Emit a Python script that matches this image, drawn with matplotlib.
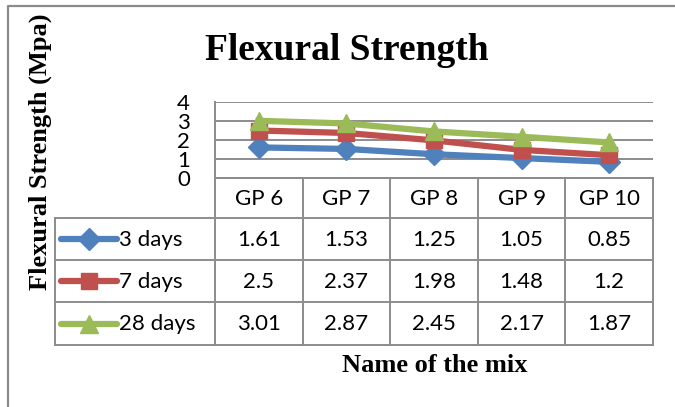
import matplotlib
matplotlib.use('Agg')
import matplotlib.pyplot as plt
import numpy as np

# Data
mixes = ['GP 6', 'GP 7', 'GP 8', 'GP 9', 'GP 10']
days3 = [1.61, 1.53, 1.25, 1.05, 0.85]
days7 = [2.5, 2.37, 1.98, 1.48, 1.2]
days28 = [3.01, 2.87, 2.45, 2.17, 1.87]
series_names = ['3 days', '7 days', '28 days']
y_ticks = [0, 1, 2, 3, 4]

W, H = 675, 407
colors = ['#4F81BD', '#C0504D', '#9BBB59']
markers = ['D', 's', '^']
msizes = [11, 12, 13]
grid_col = '#8C8C8C'

fig = plt.figure(figsize=(W / 100, H / 100), dpi=100)

# background axes in pixel coordinates for frame, table and labels
bg = fig.add_axes([0, 0, 1, 1])
bg.set_xlim(0, W)
bg.set_ylim(H, 0)
bg.axis('off')

# outer chart frame
bg.plot([8, 8, W + 5], [H + 5, 6, 6], color='#8A8A8A', lw=1.6)

# plot area geometry (pixels)
px0, px1 = 215, 653
py0, py1 = 178, 102
leg_x0 = 55
row_y = [178, 218, 260, 302, 345]

ax = fig.add_axes([px0 / W, (H - py0) / H, (px1 - px0) / W, (py0 - py1) / H])
ax.set_xlim(-0.5, len(mixes) - 0.5)
ax.set_ylim(0, 4)
ax.set_yticks(y_ticks)
ax.set_xticks([])
ax.tick_params(axis='y', length=0, pad=18, labelsize=16)
for lab in ax.get_yticklabels():
    lab.set_fontfamily('Lato')
ax.yaxis.grid(True, color=grid_col, lw=1.4)
ax.set_axisbelow(True)
for s in ['top', 'right']:
    ax.spines[s].set_visible(False)
ax.spines['left'].set_color(grid_col)
ax.spines['left'].set_linewidth(1.4)
ax.spines['bottom'].set_color(grid_col)
ax.spines['bottom'].set_linewidth(1.4)
ax.patch.set_alpha(0)

x = np.arange(len(mixes))
for vals, c, m, ms in zip([days3, days7, days28], colors, markers, msizes):
    ax.plot(x, vals, color=c, lw=4.5, marker=m, ms=ms, zorder=3, clip_on=False)

# data table
col_edges = np.linspace(px0, px1, len(mixes) + 1)
lc = grid_col
bg.plot([px0, px1], [row_y[0], row_y[0]], color=lc, lw=1.4)
for xe in col_edges:
    bg.plot([xe, xe], [row_y[0], row_y[-1]], color=lc, lw=1.4)
for yy in row_y[1:]:
    bg.plot([leg_x0, px1], [yy, yy], color=lc, lw=1.4)
bg.plot([leg_x0, leg_x0], [row_y[1], row_y[-1]], color=lc, lw=1.4)

cx = (col_edges[:-1] + col_edges[1:]) / 2
for i, name in enumerate(mixes):
    bg.text(cx[i], (row_y[0] + row_y[1]) / 2 + 1, name, ha='center', va='center',
            fontsize=16, family='Lato')

for r, (vals, name, c, m, ms) in enumerate(zip([days3, days7, days28], series_names,
                                               colors, markers, msizes)):
    yc = (row_y[r + 1] + row_y[r + 2]) / 2 + 1
    bg.plot([61, 117], [yc - 1, yc - 1], color=c, lw=4.5, solid_capstyle='round')
    bg.plot([89], [yc - 1], marker=m, color=c, ms=ms)
    bg.text(119, yc, name, ha='left', va='center', fontsize=16, family='Lato')
    for i, v in enumerate(vals):
        bg.text(cx[i], yc, f'{v:g}', ha='center', va='center', fontsize=16, family='Lato')

# titles
bg.text(347, 50, 'Flexural Strength', ha='center', va='center', fontsize=27,
        fontweight='bold', family='Liberation Serif')
bg.text(435, 366, 'Name of the mix', ha='center', va='center', fontsize=19,
        fontweight='bold', family='Liberation Serif')
bg.text(40, 152, 'Flexural Strength (Mpa)', ha='center', va='center', rotation=90,
        fontsize=19, fontweight='bold', family='Liberation Serif')

fig.savefig('out.png', dpi=100)
